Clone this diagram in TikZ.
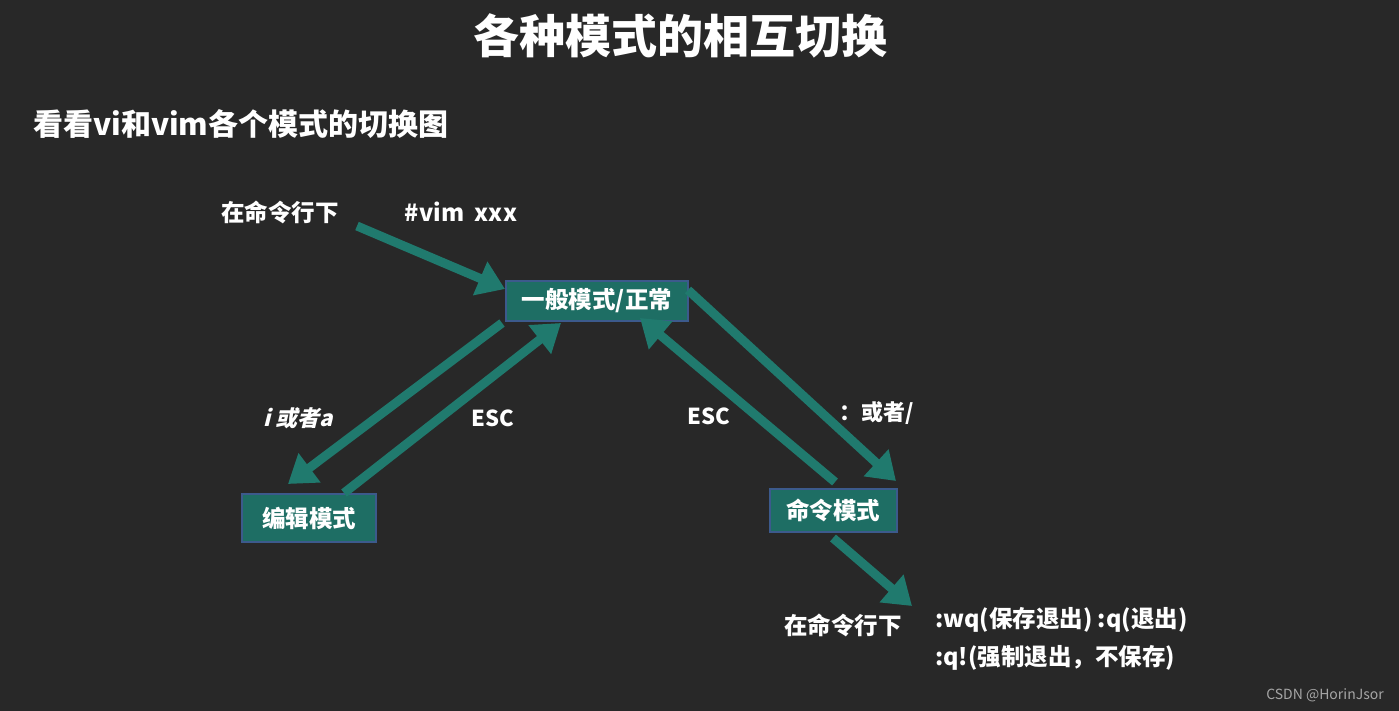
\documentclass[tikz,border=0pt]{standalone}
\usepackage{fontspec}
\setmainfont{Noto Sans CJK SC}
\usetikzlibrary{arrows.meta}
\definecolor{board}{RGB}{40,40,40}
\definecolor{teal1}{RGB}{32,122,110}
\definecolor{boxfill}{RGB}{30,110,100}
\definecolor{boxedge}{RGB}{60,90,140}
\tikzset{
  fs/.style={font=\fontsize{#1}{#1}\selectfont\bfseries},
  lbl/.style={text=white, inner sep=0pt},
  modebox/.style={draw=boxedge, line width=2pt, fill=boxfill, text=white, inner sep=0pt, fs=23.5},
  bigarrow/.style={draw=teal1, line width=9pt, -{Triangle[length=27pt,width=35pt]}}
}
\begin{document}
\begin{tikzpicture}[x=1pt,y=-1pt]
\fill[board] (0,0) rectangle (1399,711);
\useasboundingbox (0,0) rectangle (1399,711);
% titles
\node[lbl, fs=46] (title) at (680,36) {各种模式的相互切换};
\node[lbl, fs=30, anchor=west] (sub) at (33,124) {看看vi和vim各个模式的切换图};
% mode boxes
\node[modebox, minimum width=182pt, minimum height=40pt] (gen) at (597,301) {一般模式/正常};
\node[modebox, minimum width=134pt, minimum height=48pt] (edit) at (309,518) {编辑模式};
\node[modebox, minimum width=127pt, minimum height=43pt] (cmd) at (833,510) {命令模式};
% labels
\node[lbl, fs=23.5] (cl1) at (280,212) {在命令行下};
\node[lbl, fs=23.5] (vim) at (461,212) {\#vim\ \ xxx};
\node[lbl, fs=22, xslant=0.25, transform shape] (ia) at (300,418) {i 或者a};
\node[lbl, fs=22] (esc1) at (493,418) {ESC};
\node[lbl, fs=22] (esc2) at (709,416) {ESC};
\node[lbl, fs=22] (colon) at (877,413) {：或者/};
\node[lbl, fs=23.5] (cl2) at (843,625) {在命令行下};
\node[lbl, fs=23.5, anchor=west] (wq) at (935,620) {:wq(保存退出) :q(退出)};
\node[lbl, fs=23.5, anchor=west] (qq) at (935,658) {:q!(强制退出，不保存)};
\node[text=white!65!black, font=\fontsize{14}{14}\selectfont, inner sep=0pt] (csdn) at (1325,695) {CSDN @HorinJsor};
% connector endpoints
\coordinate (a1s) at (357,226);
\coordinate (a1e) at (505,289);
\coordinate (a2s) at (502,323);
\coordinate (a2e) at (288,484);
\coordinate (a3s) at (344,493);
\coordinate (a3e) at (561,323);
\coordinate (a4s) at (835,482);
\coordinate (a4e) at (640,318);
\coordinate (a5s) at (688,290);
\coordinate (a5e) at (896,481);
\coordinate (a6s) at (833,538);
\coordinate (a6e) at (912,606);
% arrows
\draw[bigarrow] (a1s) -- (a1e);
\draw[bigarrow] (a2s) -- (a2e);
\draw[bigarrow] (a3s) -- (a3e);
\draw[bigarrow] (a4s) -- (a4e);
\draw[bigarrow] (a5s) -- (a5e);
\draw[bigarrow] (a6s) -- (a6e);
\end{tikzpicture}
\end{document}
